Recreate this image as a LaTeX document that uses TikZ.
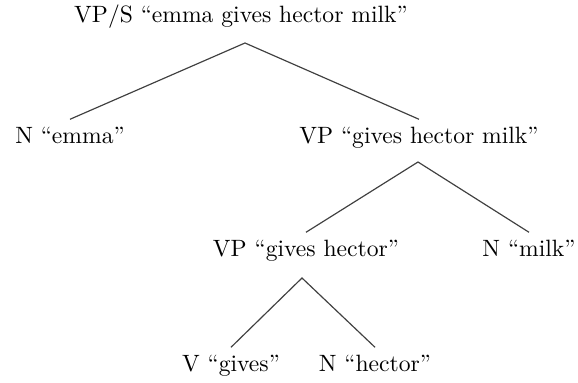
\documentclass[tikz,border=0pt]{standalone}
\begin{document}
\begin{tikzpicture}[x=0.4237pt,y=-0.4237pt,
  cat/.style={anchor=base,inner sep=3.33pt},
  branch/.style={draw=black!75,line width=0.5pt}]
\useasboundingbox (0,0) rectangle (578,383);
% constituents, placed by their baselines
\node[cat] (root)   at (241,23)  {VP/S ``emma gives hector milk''};
\node[cat] (emma)   at (70,144)  {N ``emma''};
\node[cat] (vpa)    at (419,144) {VP ``gives hector milk''};
\node[cat] (vpb)    at (306,257) {VP ``gives hector''};
\node[cat] (milk)   at (529,257) {N ``milk''};
\node[cat] (gives)  at (231,372) {V ``gives''};
\node[cat] (hector) at (375,372) {N ``hector''};
% branching points below each parent
\coordinate (root-fork) at (245,43);
\coordinate (vpa-fork)  at (418,162);
\coordinate (vpb-fork)  at (302,278);
% branches
\draw[branch] (emma.north) -- (root-fork) -- (vpa.north);
\draw[branch] (vpb.north) -- (vpa-fork) -- (milk.north);
\draw[branch] (gives.north) -- (vpb-fork) -- (hector.north);
\end{tikzpicture}
\end{document}
